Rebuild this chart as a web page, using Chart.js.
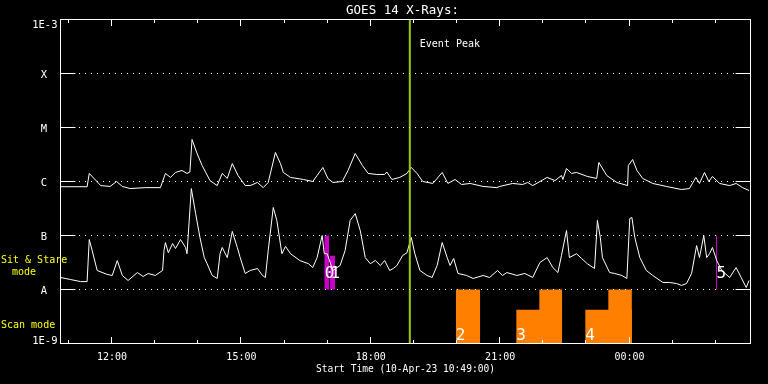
<!DOCTYPE html>
<html><head><meta charset="utf-8">
<script src="https://cdn.jsdelivr.net/npm/chart.js@4"></script>
<style>html,body{margin:0;padding:0;background:#000;overflow:hidden}canvas{display:block}</style>
</head><body>
<canvas id="c" width="768" height="384"></canvas>
<script>
// ---------- data ----------
const chartTitle = 'GOES 14 X-Rays:';
const startLabel = 'Start Time (10-Apr-23 10:49:00)';
const spanMinutes = 960; // minutes after start (10:49)
const classValues = [1e-9, 1e-8, 1e-7, 1e-6, 1e-5, 1e-4, 1e-3];
const classLabels = ['1E-9', 'A', 'B', 'C', 'M', 'X', '1E-3'];
const hourTickMinutes = [11, 71, 131, 191, 251, 311, 371, 431, 491, 551, 611, 671, 731, 791, 851, 911];
const timeTickMinutes = [71, 251, 431, 611, 791];
const timeTickLabels = ['12:00', '15:00', '18:00', '21:00', '00:00'];
const eventPeakMinute = 486;
const eventLabel = 'Event Peak';

// GOES long channel (1-8 A)
const longTimes = [0,37,40,56,69,78,86,97,118,139,146,153,160,169,176,180,183,190,197,208,218,225,232,239,247,257,264,274,282,289,299,306,310,320,338,351,357,365,372,379,392,400,410,420,428,440,451,454,461,472,482,488,496,504,518,531,539,549,558,570,588,607,611,629,643,650,657,677,688,697,699,704,711,718,733,746,749,760,774,789,790,796,802,810,824,843,864,875,884,889,896,902,907,917,931,940,949,958];
const longFlux = [8.0e-7,8.0e-7,1.41e-6,8.4e-7,8.1e-7,1.0e-6,8.1e-7,7.4e-7,7.7e-7,7.7e-7,1.41e-6,1.19e-6,1.47e-6,1.6e-6,1.41e-6,1.5e-6,6.0e-6,3.3e-6,1.98e-6,1.04e-6,8.4e-7,1.41e-6,1.14e-6,2.15e-6,1.29e-6,8.4e-7,8.4e-7,9.6e-7,7.7e-7,9.6e-7,3.44e-6,2.15e-6,1.47e-6,1.19e-6,1.09e-6,1.0e-6,1.29e-6,1.82e-6,1.14e-6,9.6e-7,1.0e-6,1.6e-6,3.3e-6,1.98e-6,1.41e-6,1.35e-6,1.35e-6,1.5e-6,1.09e-6,1.19e-6,1.41e-6,1.82e-6,1.41e-6,1.0e-6,9.2e-7,1.47e-6,9.2e-7,1.09e-6,8.8e-7,9.2e-7,8.1e-7,7.7e-7,8.1e-7,9.2e-7,8.8e-7,9.6e-7,8.4e-7,1.19e-6,1.04e-6,1.29e-6,1.09e-6,1.74e-6,1.41e-6,1.47e-6,1.24e-6,1.14e-6,2.25e-6,1.29e-6,9.6e-7,8.4e-7,1.98e-6,2.55e-6,1.6e-6,1.14e-6,9.2e-7,8.1e-7,7.1e-7,7.4e-7,1.19e-6,9.2e-7,1.47e-6,1.0e-6,1.24e-6,9.2e-7,8.4e-7,9.2e-7,7.7e-7,6.8e-7];

// GOES short channel (0.5-4 A)
const shortTimes = [0,14,28,37,40,44,51,65,72,79,86,94,107,115,122,132,142,144,146,150,156,160,167,174,176,182,188,194,200,204,211,218,222,225,232,239,246,250,257,264,274,281,285,289,296,301,308,313,320,333,345,351,357,364,367,371,379,389,396,403,410,417,424,431,438,445,451,458,463,468,476,482,488,493,500,510,517,524,531,538,542,547,553,565,574,588,597,608,615,621,635,646,657,667,677,685,692,697,704,708,718,725,733,743,747,751,754,764,771,781,788,792,795,799,806,815,824,838,847,857,864,871,878,885,889,895,899,903,907,913,920,931,940,947,954,958];
const shortFlux = [1.67e-8,1.53e-8,1.4e-8,1.4e-8,8.4e-8,5.3e-8,2.25e-8,1.9e-8,1.82e-8,3.44e-8,1.82e-8,1.47e-8,2.06e-8,1.74e-8,1.98e-8,1.82e-8,2.25e-8,5.3e-8,7.4e-8,4.8e-8,7.1e-8,5.75e-8,8.4e-8,6.0e-8,4.6e-8,7.4e-7,2.55e-7,9.2e-8,3.9e-8,3.0e-8,1.82e-8,1.6e-8,4.6e-8,6.0e-8,3.9e-8,1.19e-7,6.0e-8,3.9e-8,1.98e-8,2.25e-8,2.45e-8,1.82e-8,1.67e-8,5.3e-8,3.3e-7,1.9e-7,4.6e-8,6.3e-8,4.6e-8,3.44e-8,3.0e-8,2.55e-8,3.9e-8,1.0e-7,4.6e-8,4.6e-8,2.25e-8,2.78e-8,5.3e-8,1.9e-7,2.55e-7,1.24e-7,3.9e-8,3.0e-8,3.44e-8,2.78e-8,3.44e-8,2.25e-8,2.45e-8,2.78e-8,4.26e-8,4.8e-8,9.2e-8,4.6e-8,2.25e-8,1.82e-8,1.67e-8,2.78e-8,7.4e-8,3.9e-8,2.78e-8,3.75e-8,1.98e-8,1.82e-8,1.6e-8,1.82e-8,1.67e-8,2.25e-8,1.82e-8,2.06e-8,1.82e-8,1.98e-8,1.67e-8,3.16e-8,3.9e-8,2.55e-8,2.06e-8,4.26e-8,1.24e-7,3.9e-8,4.6e-8,3.75e-8,3.0e-8,2.45e-8,1.9e-7,9.2e-8,3.9e-8,2.06e-8,1.98e-8,1.82e-8,1.6e-8,2.06e-7,2.15e-7,9.2e-8,3.9e-8,2.25e-8,1.82e-8,1.35e-8,1.35e-8,1.29e-8,1.19e-8,1.29e-8,1.98e-8,6.5e-8,3.9e-8,1.0e-7,3.9e-8,4.6e-8,6.0e-8,3.44e-8,2.25e-8,1.67e-8,2.55e-8,1.67e-8,1.09e-8,1.47e-8];

// Sit & Stare observations (between A and B)
const stareStart = [367, 375, 912];
const stareEnd   = [374, 382, 913.4];
const stareTop   = [1e-7, 4.2e-8, 1e-7];
const stareIds   = ['0', '1', '5'];
const stareBase  = 1e-8;

// Scan mode observations (between 1E-9 and A)
const scanStart = [550, 634, 666, 730, 762];
const scanEnd   = [584, 698, 698, 795, 795];
const scanTop   = [1e-8, 4.2e-9, 1e-8, 4.2e-9, 1e-8];
const scanIds   = ['2', '3', '', '4', ''];
const scanBase  = 1e-9;

// ---------- chart ----------
const MAGENTA = '#c800c8', ORANGE = '#ff8000', GREEN = '#99cc00', YELLOW = '#ffff00';
const rect = (s, e, top, base) => [{x:s,y:base},{x:s,y:top},{x:e,y:top},{x:e,y:base}];

const datasets = [];
datasets.push({data: [{x:eventPeakMinute,y:classValues[0]},{x:eventPeakMinute,y:classValues[6]}], borderColor: GREEN, borderWidth: 2, fill: false});
datasets.push({data: longTimes.map((t,i)=>({x:t,y:longFlux[i]})), borderColor:'#ffffff', borderWidth:1, fill:false});
datasets.push({data: shortTimes.map((t,i)=>({x:t,y:shortFlux[i]})), borderColor:'#ffffff', borderWidth:1, fill:false});
stareStart.forEach((s,i)=>datasets.push({data: rect(s, stareEnd[i], stareTop[i], stareBase), borderWidth:0, borderColor:MAGENTA, backgroundColor:MAGENTA, fill:{value: stareBase}}));
scanStart.forEach((s,i)=>datasets.push({data: rect(s, scanEnd[i], scanTop[i], scanBase), borderWidth:0, borderColor:ORANGE, backgroundColor:ORANGE, fill:{value: scanBase}}));

const FONT = '"DejaVu Sans Mono", monospace';
const decor = {
  id: 'decor',
  beforeDraw(chart) {
    const ctx = chart.ctx;
    ctx.save(); ctx.fillStyle = '#000'; ctx.fillRect(0,0,chart.width,chart.height); ctx.restore();
  },
  afterDraw(chart) {
    const ctx = chart.ctx, xs = chart.scales.x, ys = chart.scales.y, a = chart.chartArea;
    ctx.save();
    ctx.strokeStyle = '#fff'; ctx.fillStyle = '#fff'; ctx.lineWidth = 1;
    // dotted class lines
    ctx.setLineDash([1,5]);
    classValues.slice(1, -1).forEach(v => {
      const y = ys.getPixelForValue(v);
      ctx.beginPath(); ctx.moveTo(a.left + 18.5, y); ctx.lineTo(a.right - 14, y); ctx.stroke();
    });
    ctx.setLineDash([]);
    // y ticks
    classValues.slice(1, -1).forEach(v => {
      const y = ys.getPixelForValue(v);
      ctx.beginPath();
      ctx.moveTo(a.left, y); ctx.lineTo(a.left + 15, y);
      ctx.moveTo(a.right - 15, y); ctx.lineTo(a.right, y);
      ctx.stroke();
    });
    // x ticks (hourly minor, 3-hourly major)
    hourTickMinutes.forEach(m => {
      const x = Math.floor(xs.getPixelForValue(m)) + 0.5;
      const len = timeTickMinutes.includes(m) ? 6.5 : 3.5;
      ctx.beginPath();
      ctx.moveTo(x, a.top); ctx.lineTo(x, a.top + len);
      ctx.moveTo(x, a.bottom); ctx.lineTo(x, a.bottom - len);
      ctx.stroke();
    });
    // frame
    ctx.strokeRect(a.left, a.top, a.right - a.left, a.bottom - a.top);

    // title
    ctx.font = '12.5px ' + FONT; ctx.textAlign = 'center'; ctx.textBaseline = 'alphabetic';
    ctx.fillText(chartTitle, (a.left + a.right) / 2 - 3, 14);
    // bottom label
    ctx.font = '9.6px ' + FONT;
    ctx.fillText(startLabel, (a.left + a.right) / 2, 372);
    // time tick labels
    ctx.font = '10px ' + FONT;
    timeTickMinutes.forEach((m, i) => ctx.fillText(timeTickLabels[i], xs.getPixelForValue(m) + 0.5, 359.5));
    // y class labels
    ctx.font = '10.5px ' + FONT;
    classValues.forEach((v, i) => {
      const y = ys.getPixelForValue(v);
      if (i === 0) { ctx.textAlign = 'right'; ctx.fillText(classLabels[i], a.left - 3, y + 0.5); }
      else if (i === classValues.length - 1) { ctx.textAlign = 'right'; ctx.fillText(classLabels[i], a.left - 3, y + 8); }
      else { ctx.textAlign = 'center'; ctx.fillText(classLabels[i], 44, y + 4); }
    });
    // event peak label
    ctx.font = '10px ' + FONT; ctx.textAlign = 'left';
    ctx.fillText(eventLabel, xs.getPixelForValue(eventPeakMinute) + 10, 47);
    // mode labels
    ctx.fillStyle = YELLOW;
    ctx.fillText('Sit & Stare', 1, 262.5);
    ctx.fillText('mode', 12, 275);
    ctx.fillText('Scan mode', 1, 327.5);
    // observation ids
    ctx.fillStyle = '#fff'; ctx.font = '16px ' + FONT;
    stareIds.forEach((id, i) => ctx.fillText(id, xs.getPixelForValue(stareStart[i]) + 0.5, ys.getPixelForValue(stareBase) - 12));
    scanIds.forEach((id, i) => { if (id) ctx.fillText(id, xs.getPixelForValue(scanStart[i]), ys.getPixelForValue(scanBase) - 4); });
    ctx.restore();
  }
};

new Chart(document.getElementById('c'), {
  type: 'line',
  data: { datasets },
  options: {
    responsive: false, animation: false, devicePixelRatio: 1,
    layout: { padding: { left: 60.5, right: 17.5, top: 19.5, bottom: 40.5 } },
    plugins: { legend: { display: false }, tooltip: { enabled: false }, title: { display: false } },
    elements: { point: { radius: 0 }, line: { tension: 0 } },
    scales: {
      x: { type: 'linear', min: 0, max: spanMinutes, display: false },
      y: { type: 'logarithmic', min: classValues[0], max: classValues[6], display: false }
    }
  },
  plugins: [decor]
});
</script>
</body></html>
